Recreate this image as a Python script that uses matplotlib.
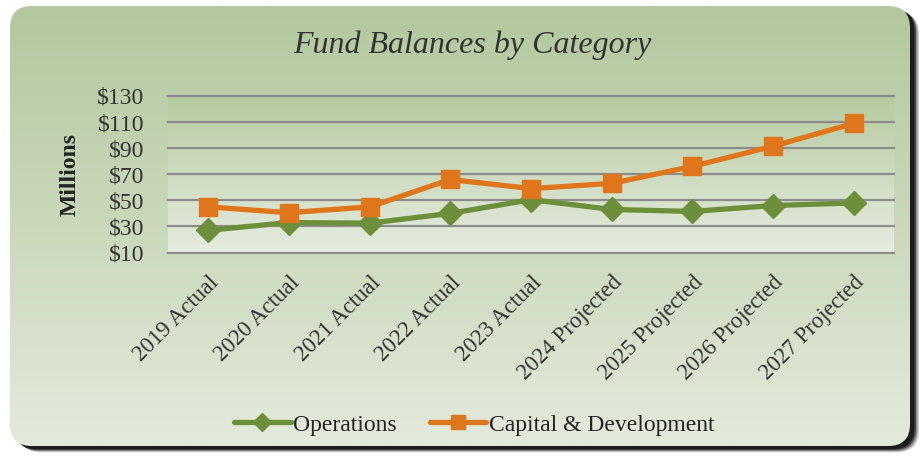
import numpy as np
import matplotlib.pyplot as plt
from matplotlib.patches import FancyBboxPatch
from matplotlib.colors import LinearSegmentedColormap

W, H = 924, 457
DPI = 100

categories = ['2019 Actual', '2020 Actual', '2021 Actual', '2022 Actual', '2023 Actual',
              '2024 Projected', '2025 Projected', '2026 Projected', '2027 Projected']
operations = [27, 33, 32.5, 40, 50.5, 43, 41.5, 46, 48]
capital = [45, 40.5, 45, 66, 59, 63, 76, 91.5, 109]
yticks = [10, 30, 50, 70, 90, 110, 130]

GREEN = '#6d8f3b'
ORANGE = '#e0761c'
TXT = '#333333'
SERIF = ['Liberation Serif', 'DejaVu Serif']

fig = plt.figure(figsize=(W / DPI, H / DPI), dpi=DPI, facecolor='white')

# card background with dark shadow on right/bottom
bg = fig.add_axes([0, 0, 1, 1])
bg.set_xlim(0, W)
bg.set_ylim(H, 0)
bg.axis('off')

for i, a in enumerate([0.2, 0.35, 0.55, 0.8]):
    off = 9 - i * 1.5
    sh = FancyBboxPatch((10 + off, 6 + off * 0.7), 900, 440, boxstyle='round,pad=0,rounding_size=22',
                        facecolor='#111111', edgecolor='none', alpha=a, zorder=1)
    bg.add_patch(sh)

card = FancyBboxPatch((10, 6), 900, 440, boxstyle='round,pad=0,rounding_size=22',
                      facecolor='none', edgecolor='none', zorder=2)
bg.add_patch(card)
card_cmap = LinearSegmentedColormap.from_list('card', ['#b3c89e', '#cbd8bb', '#e4eadc'])
grad = np.linspace(0, 1, 256).reshape(-1, 1)
im = bg.imshow(grad, cmap=card_cmap, extent=[10, 910, 446, 6], aspect='auto', zorder=2)
im.set_clip_path(card)

# chart
ax = fig.add_axes([168 / W, 1 - 252.5 / H, (894 - 168) / W, (252.5 - 96) / H])
ax.set_facecolor('none')
plot_cmap = LinearSegmentedColormap.from_list('plot', ['#b6ca9f', '#e6ece0'])
ax.imshow(grad, cmap=plot_cmap, extent=[-0.5, len(categories) - 0.5, 10, 130],
          aspect='auto', zorder=0)

x = np.arange(len(categories))
for v in yticks:
    ax.axhline(v, color='#8c8c8c', lw=1.6, zorder=1, clip_on=False)
ax.plot(x, operations, color=GREEN, lw=3.8, marker='D', markersize=12.5, zorder=3,
        label='Operations', solid_capstyle='round')
ax.plot(x, capital, color=ORANGE, lw=3.8, marker='s', markersize=13, zorder=4,
        label='Capital & Development', solid_capstyle='round')

ax.set_xlim(-0.5, len(categories) - 0.5)
ax.set_ylim(10, 130)
ax.set_yticks(yticks)
ax.set_yticklabels([f'${v}' for v in yticks], fontfamily=SERIF, fontsize=17, color=TXT)
for s in ax.spines.values():
    s.set_visible(False)
ax.tick_params(axis='both', length=0)
ax.tick_params(axis='y', pad=17)
ax.set_xticks(x)
ax.set_xticklabels(categories, rotation=45, ha='right', rotation_mode='anchor',
                   fontfamily=SERIF, fontsize=16.5, color=TXT)
ax.tick_params(axis='x', pad=14)

ax.set_ylabel('Millions', fontfamily=SERIF, fontsize=17, fontweight='bold', color='#222222',
              labelpad=12)

fig.text(472 / W, 1 - 45 / H, 'Fund Balances by Category', fontfamily=SERIF, fontsize=23,
         style='italic', color=TXT, ha='center', va='center')

leg = fig.legend(loc='center', bbox_to_anchor=(474 / W, 1 - 425 / H), ncol=2, frameon=False,
                 prop={'family': SERIF, 'size': 17}, handlelength=2.4, handletextpad=0.1,
                 columnspacing=1.4, markerscale=0.75)
for t in leg.get_texts():
    t.set_color('#222222')

fig.savefig('out.png', dpi=DPI, facecolor='white')
